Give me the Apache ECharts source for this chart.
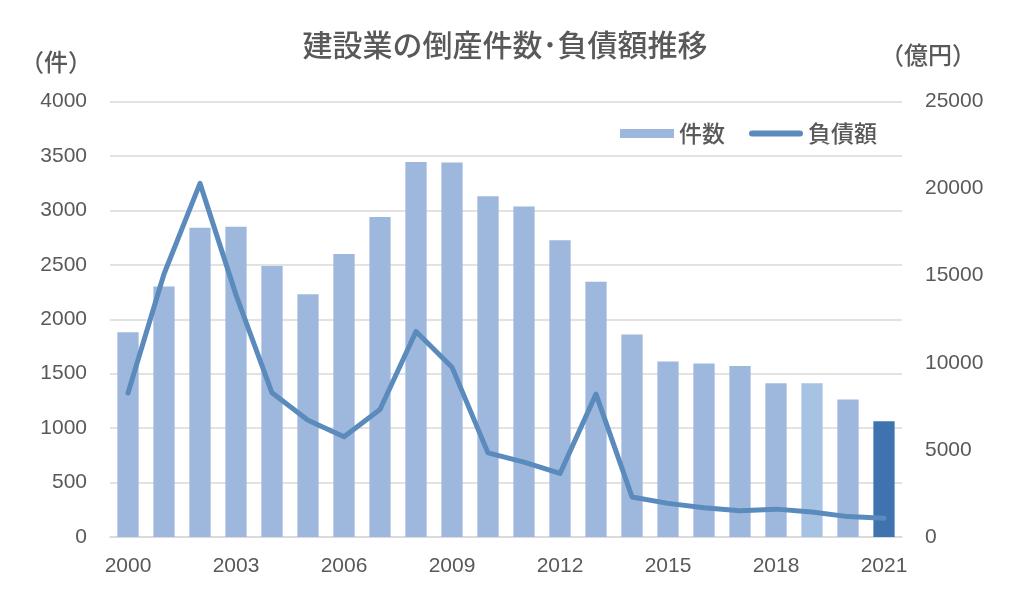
<!DOCTYPE html>
<html>
<head>
<meta charset="utf-8">
<script src="https://cdn.jsdelivr.net/npm/echarts@6/dist/echarts.min.js"></script>
<style>
  html, body { margin: 0; padding: 0; background: #fff; }
  #chart { width: 1010px; height: 598px; }
</style>
</head>
<body>
<div id="chart"></div>
<script>
// 年
const years = ['2000', '2001', '2002', '2003', '2004', '2005', '2006', '2007', '2008', '2009', '2010',
  '2011', '2012', '2013', '2014', '2015', '2016', '2017', '2018', '2019', '2020', '2021']
// 倒産件数（件）
const counts = [1880, 2300, 2840, 2850, 2490, 2230, 2600, 2940, 3445, 3440, 3130,
  3035, 2725, 2345, 1860, 1612, 1594, 1570, 1413, 1413, 1263, 1064]
// 負債額（億円）
const debts = [8270, 15100, 20300, 13900, 8280, 6700, 5750, 7320, 11800, 9750, 4830,
  4300, 3650, 8200, 2300, 1930, 1680, 1510, 1600, 1430, 1170, 1070]

const leftTicks = { min: 0, max: 4000, interval: 500 }
const rightTicks = { min: 0, max: 25000, interval: 5000 }

const barColor = '#9db8dc'
// 一部の棒だけ色が違う
const barColorOverride = { '2019': '#a6c3e4', '2021': '#3e73af' }
const lineColor = '#5b8abc'
const textColor = '#595959'
const numFont = 'Liberation Sans'
const jpFont = 'Noto Sans CJK JP'
// 凡例の線（角丸の細長い棒）
const lineIcon = 'path://M3,0L51,0A3,3,0,0,1,51,6L3,6A3,3,0,0,1,3,0Z'

let ch = echarts.init(document.getElementById('chart'))
let option = {
  animation: false,
  title: {
    text: '建設業の倒産件数･負債額推移',
    left: 'center',
    top: 25,
    textStyle: { fontFamily: jpFont, fontSize: 30, fontWeight: 500, color: textColor }
  },
  legend: {
    top: 117,
    right: 128,
    itemWidth: 54,
    itemHeight: 9,
    itemGap: 24,
    textStyle: { fontFamily: jpFont, fontSize: 23, fontWeight: 500, color: textColor },
    data: [
      { name: '件数', icon: 'rect' },
      { name: '負債額', icon: lineIcon, itemStyle: { color: lineColor, borderWidth: 0 } }
    ]
  },
  grid: {
    left: 110,
    right: 108,
    top: 101.5,
    bottom: 61
  },
  xAxis: {
    type: 'category',
    data: years,
    axisLine: { lineStyle: { color: '#d9d9d9', width: 1.5 } },
    axisTick: { show: false },
    axisLabel: {
      interval: 2,
      margin: 19,
      color: textColor,
      fontFamily: numFont,
      fontSize: 21
    }
  },
  yAxis: [
    {
      type: 'value',
      min: leftTicks.min,
      max: leftTicks.max,
      interval: leftTicks.interval,
      name: '（件）',
      nameLocation: 'end',
      nameGap: 28,
      nameTextStyle: {
        fontFamily: jpFont, fontSize: 24, fontWeight: 500, color: textColor,
        align: 'right', padding: [0, 18, 0, 0]
      },
      axisLine: { show: false },
      axisTick: { show: false },
      axisLabel: {
        margin: 23, color: textColor, fontFamily: numFont, fontSize: 21,
        formatter: v => String(v)
      },
      splitLine: { lineStyle: { color: '#d9d9d9', width: 1.5 } }
    },
    {
      type: 'value',
      min: rightTicks.min,
      max: rightTicks.max,
      interval: rightTicks.interval,
      name: '（億円）',
      nameLocation: 'end',
      nameGap: 35,
      nameTextStyle: {
        fontFamily: jpFont, fontSize: 24, fontWeight: 500, color: textColor,
        align: 'left', padding: [0, 0, 0, -22]
      },
      axisLine: { show: false },
      axisTick: { show: false },
      axisLabel: {
        margin: 23, color: textColor, fontFamily: numFont, fontSize: 21,
        formatter: v => String(v)
      },
      splitLine: { show: false }
    }
  ],
  series: [
    {
      name: '件数',
      type: 'bar',
      yAxisIndex: 0,
      barWidth: '59%',
      itemStyle: { color: barColor },
      data: counts.map((v, i) => ({
        value: v,
        itemStyle: { color: barColorOverride[years[i]] || barColor }
      }))
    },
    {
      name: '負債額',
      type: 'line',
      yAxisIndex: 1,
      symbol: 'none',
      lineStyle: { color: lineColor, width: 5, cap: 'round', join: 'round' },
      itemStyle: { color: lineColor },
      data: debts
    }
  ]
}
ch.setOption(option)
</script>
</body>
</html>
